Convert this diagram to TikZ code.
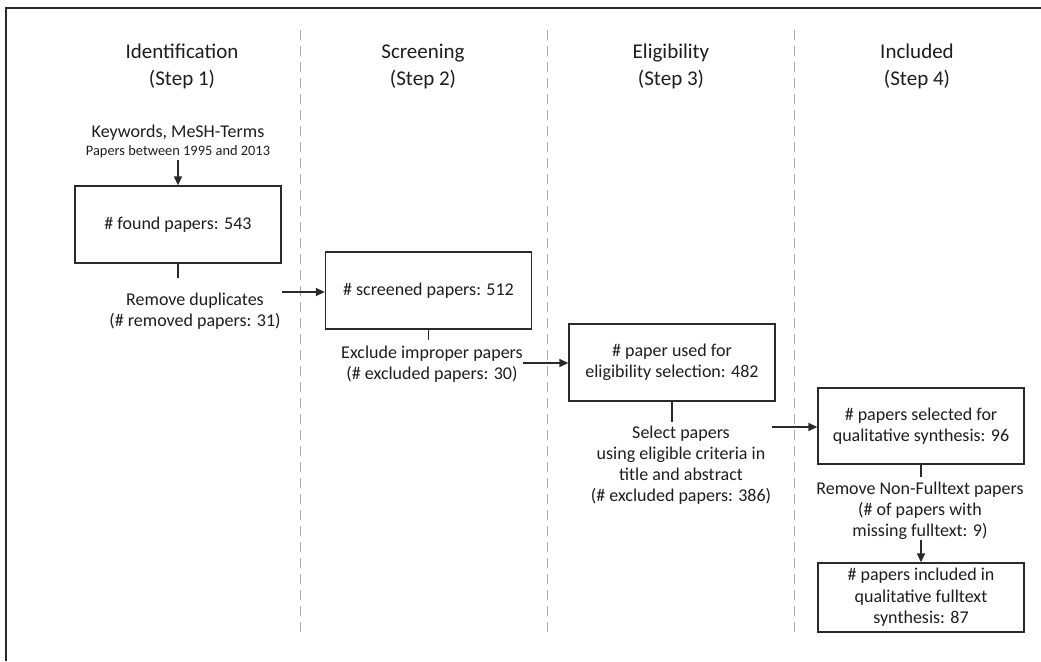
\documentclass[tikz,border=0pt]{standalone}
\usepackage{fontspec}
\setmainfont{Carlito}
\usetikzlibrary{arrows.meta}
\definecolor{ink}{HTML}{1E1E1E}
\definecolor{linec}{HTML}{2A2A2A}
\definecolor{dashc}{HTML}{A8A8A8}
\tikzset{
  title/.style={align=center, inner sep=0pt, text=ink, font=\fontsize{21}{27}\selectfont},
  lbl/.style={align=center, inner sep=0pt, text=ink, font=\fontsize{18}{21}\selectfont},
  small/.style={align=center, inner sep=0pt, text=ink, font=\fontsize{14.4}{17}\selectfont},
  box/.style={draw=linec, line width=1.3pt, minimum width=206pt, align=center, inner sep=0pt, text=ink, font=\fontsize{18}{21.5}\selectfont},
  conn/.style={draw=linec, line width=1.3pt},
  arr/.style={conn, -{Triangle[length=9pt,width=8pt]}},
  sep/.style={draw=dashc, line width=1pt, dash pattern=on 10pt off 6pt},
  frame/.style={draw=linec, line width=1.6pt}
}
\begin{document}
\begin{tikzpicture}[x=1pt, y=-1pt]
\useasboundingbox (0,0) rectangle (1041,661);
\fill[white] (0,0) rectangle (1041,661);
\draw[frame] (6,661) -- (6,8) -- (1041,8);
% separators
\draw[sep] (300,30) -- (300,632);
\draw[sep] (547,30) -- (547,632);
\draw[sep] (794,30) -- (794,632);
% titles
\node[title] (t1) at (182,66.5) {Identification\\(Step 1)};
\node[title] (t2) at (423,66.5) {Screening\\(Step 2)};
\node[title] (t3) at (671,66.5) {Eligibility\\(Step 3)};
\node[title] (t4) at (917,66.5) {Included\\(Step 4)};
% source
\node[lbl] (kw) at (178,133) {Keywords, MeSH-Terms};
\node[small] (yr) at (178,152) {Papers between 1995 and 2013};
% boxes
\node[box, minimum height=77pt] (b1) at (178,224.5) {\# found papers: 543};
\node[box, minimum height=77pt] (b2) at (428.5,290.5) {\# screened papers: 512};
\node[box, minimum height=77pt] (b3) at (672,362.5) {\# paper used for\\eligibility selection: 482};
\node[box, minimum height=76pt] (b4) at (921,426) {\# papers selected for\\qualitative synthesis: 96};
\node[box, minimum height=69pt] (b5) at (921,597.5) {\# papers included in\\qualitative fulltext\\synthesis: 87};
% labels
\node[lbl] (r1) at (195,311.5) {Remove duplicates\\(\# removed papers: 31)};
\node[lbl] (r2) at (432,364) {Exclude improper papers\\(\# excluded papers: 30)};
\node[lbl] (r3) at (681,465) {Select papers\\using eligible criteria in\\title and abstract\\(\# excluded papers: 386)};
\node[lbl] (r4) at (920,511) {Remove Non-Fulltext papers\\(\# of papers with\\missing fulltext: 9)};
% coordinates
\coordinate (k0) at (178,160);
\coordinate (s1) at (178,278);
\coordinate (e1) at (282,292);
\coordinate (s2) at (428.5,340);
\coordinate (e2) at (523,363);
\coordinate (s3) at (672,422);
\coordinate (e3) at (772,427);
\coordinate (s4) at (921,477);
\coordinate (e4) at (921,540);
% connectors
\draw[arr] (k0) -- (b1.north);
\draw[conn] (b1.south) -- (s1);
\draw[arr] (e1) -- (e1 -| b2.west);
\draw[conn] (b2.south) -- (s2);
\draw[arr] (e2) -- (e2 -| b3.west);
\draw[conn] (b3.south) -- (s3);
\draw[arr] (e3) -- (e3 -| b4.west);
\draw[conn] (b4.south) -- (s4);
\draw[arr] (e4) -- (b5.north);
\end{tikzpicture}
\end{document}
